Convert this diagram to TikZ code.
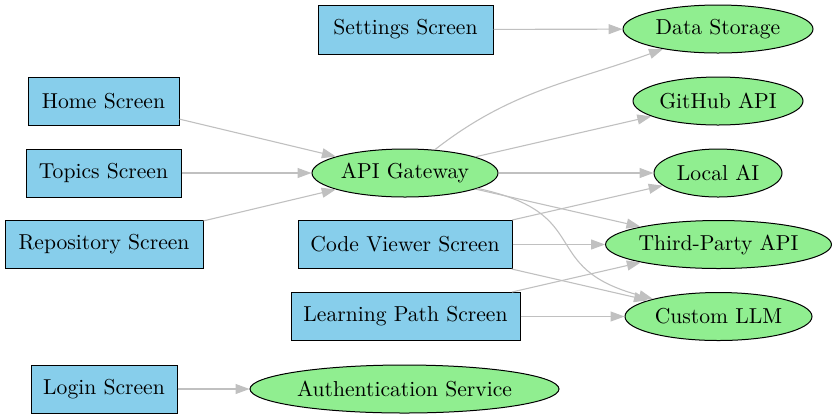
\documentclass[tikz,border=0pt]{standalone}
\usetikzlibrary{shapes.geometric,arrows.meta}
\definecolor{boxblue}{HTML}{87CEEB}
\definecolor{ellgreen}{HTML}{90EE90}
\definecolor{edgegray}{HTML}{C0C0C0}
\begin{document}
\begin{tikzpicture}[x=0.5pt,y=-0.5pt,
  every node/.style={font=\fontsize{10.8}{13}\selectfont, inner sep=0pt},
  screen/.style={rectangle, draw=black, line width=0.5pt, fill=boxblue, minimum height=24pt},
  service/.style={ellipse, draw=black, line width=0.5pt, fill=ellgreen, minimum height=24pt},
  link/.style={draw=edgegray, line width=0.55pt, -{Triangle[length=7pt,width=5pt]}}
]
\useasboundingbox (0,0) rectangle (834,419);
% screens
\node[screen, minimum width=87.5pt, minimum height=24.5pt] (settings) at (405.5,29.5) {Settings Screen};
\node[screen, minimum width=75.5pt] (home) at (103.5,101) {Home Screen};
\node[screen, minimum width=77.5pt] (topics) at (103.5,173) {Topics Screen};
\node[screen, minimum width=99pt] (repo) at (104,244.5) {Repository Screen};
\node[screen, minimum width=107pt] (code) at (405,244.5) {Code Viewer Screen};
\node[screen, minimum width=114.5pt] (learn) at (405.5,316.5) {Learning Path Screen};
\node[screen, minimum width=73pt] (login) at (104,389) {Login Screen};
% services
\node[service, minimum width=154.5pt] (auth) at (404.5,389) {Authentication Service};
\node[service, minimum width=93pt] (api) at (405,173) {API Gateway};
\node[service, minimum width=95pt] (data) at (718,29) {Data Storage};
\node[service, minimum width=85pt] (github) at (718,101) {GitHub API};
\node[service, minimum width=64pt] (local) at (718,173) {Local AI};
\node[service, minimum width=110.5pt] (third) at (718.5,244.5) {Third-Party API};
\node[service, minimum width=93.5pt] (llm) at (718.5,316.5) {Custom LLM};
% edges
\draw[link] (settings) -- (data);
\draw[link] (home) -- (api);
\draw[link] (topics) -- (api);
\draw[link] (repo) -- (api);
\draw[link] (api) to[out=38,in=200] (data);
\draw[link] (api) -- (github);
\draw[link] (api) -- (local);
\draw[link] (api) -- (third);
\draw[link] (api) to[out=-12,in=165,looseness=1.5] (llm);
\draw[link] (code) -- (local);
\draw[link] (code) -- (third);
\draw[link] (code) -- (llm);
\draw[link] (learn) -- (third);
\draw[link] (learn) -- (llm);
\draw[link] (login) -- (auth);
\end{tikzpicture}
\end{document}
